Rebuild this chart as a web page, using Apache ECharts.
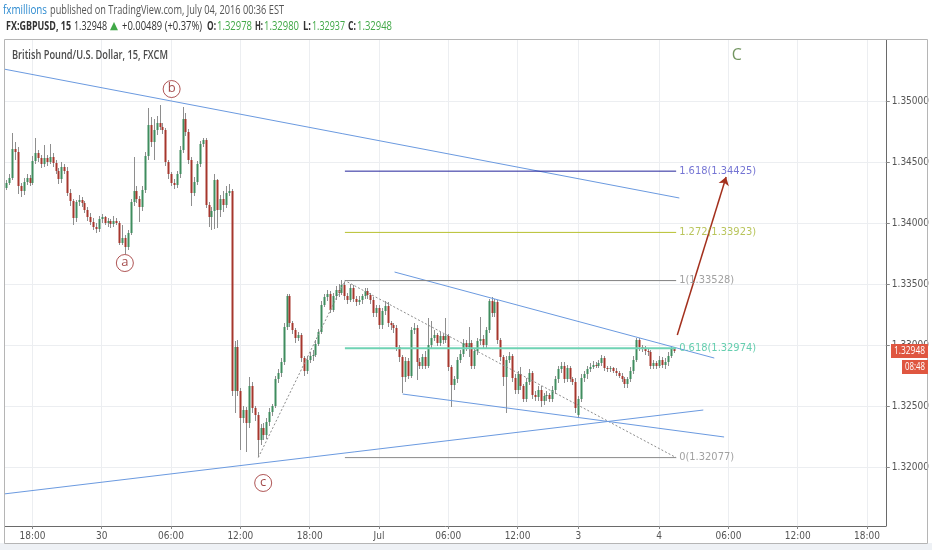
<!DOCTYPE html>
<html><head><meta charset="utf-8">
<script src="https://cdn.jsdelivr.net/npm/echarts@6/dist/echarts.min.js"></script>
<style>html,body{margin:0;padding:0;background:#fff}#c{width:932px;height:550px}</style>
</head><body><div id="c"></div>
<script>
// ---- data (15-minute GBPUSD bars) ----
const opens = [
1.3429,1.3433,1.3437,1.3461,1.3458,1.3430,1.3426,1.3434,1.3437,1.3433,
1.3451,1.3457,1.3453,1.3448,1.3453,1.3450,1.3454,1.3449,1.3443,1.3436,
1.3446,1.3443,1.3425,1.3418,1.3404,1.3417,1.3419,1.3416,1.3411,1.3405,
1.3401,1.3397,1.3395,1.3403,1.3405,1.3400,1.3402,1.3399,1.3402,1.3400,
1.3384,1.3388,1.3380,1.3392,1.3417,1.3426,1.3420,1.3413,1.3427,1.3455,
1.3480,1.3466,1.3476,1.3482,1.3479,1.3476,1.3450,1.3440,1.3433,1.3431,
1.3440,1.3460,1.3485,1.3475,1.3452,1.3425,1.3434,1.3448,1.3465,1.3468,
1.3415,1.3405,1.3410,1.3435,1.3411,1.3420,1.3415,1.3425,1.3426,1.3262,
1.3298,1.3262,1.3240,1.3247,1.3236,1.3266,1.3248,1.3243,1.3222,1.3232,
1.3226,1.3237,1.3245,1.3250,1.3272,1.3277,1.3286,1.3315,1.3340,1.3318,
1.3312,1.3306,1.3308,1.3289,1.3279,1.3288,1.3291,1.3292,1.3301,1.3311,
1.3333,1.3339,1.3342,1.3329,1.3340,1.3345,1.3343,1.3349,1.3340,1.3337,
1.3347,1.3338,1.3335,1.3337,1.3340,1.3344,1.3341,1.3337,1.3326,1.3330,
1.3316,1.3328,1.3332,1.3318,1.3316,1.3314,1.3298,1.3290,1.3274,1.3287,
1.3275,1.3312,1.3314,1.3286,1.3283,1.3290,1.3283,1.3300,1.3306,1.3308,
1.3302,1.3307,1.3304,1.3307,1.3282,1.3267,1.3272,1.3288,1.3293,1.3302,
1.3298,1.3302,1.3283,1.3295,1.3303,1.3305,1.3300,1.3312,1.3336,1.3326,
1.3335,1.3304,1.3290,1.3274,1.3288,1.3291,1.3273,1.3263,1.3276,1.3266,
1.3256,1.3270,1.3277,1.3259,1.3257,1.3263,1.3254,1.3258,1.3259,1.3256,
1.3263,1.3272,1.3280,1.3283,1.3272,1.3281,1.3272,1.3270,1.3243,1.3256,
1.3273,1.3276,1.3280,1.3282,1.3284,1.3283,1.3285,1.3289,1.3281,1.3280,
1.3281,1.3279,1.3277,1.3275,1.3272,1.3268,1.3272,1.3279,1.3288,1.3304,
1.3298,1.3297,1.3295,1.3294,1.3283,1.3285,1.3283,1.3288,1.3284,1.3286,
1.3291,1.32978];
const highs = [
1.3435,1.3440,1.3474,1.3466,1.3462,1.3433,1.3437,1.3440,1.3439,1.3455,
1.3470,1.3460,1.3456,1.3464,1.3456,1.3465,1.3457,1.3452,1.3445,1.3450,
1.3448,1.3446,1.3428,1.3420,1.3419,1.3423,1.3421,1.3418,1.3413,1.3408,
1.3404,1.3400,1.3406,1.3407,1.3406,1.3404,1.3403,1.3406,1.3404,1.3402,
1.3398,1.3390,1.3394,1.3420,1.3454,1.3430,1.3422,1.3430,1.3458,1.3494,
1.3487,1.3485,1.3488,1.3497,1.3482,1.3478,1.3452,1.3442,1.3436,1.3443,
1.3463,1.3495,1.3490,1.3477,1.3454,1.3438,1.3451,1.3467,1.3470,1.3470,
1.3417,1.3413,1.3440,1.3436,1.3423,1.3426,1.3430,1.3432,1.3428,1.3303,
1.3304,1.3265,1.3250,1.3249,1.3274,1.3270,1.3250,1.3245,1.3235,1.3236,
1.3240,1.3248,1.3252,1.3275,1.3280,1.3289,1.3318,1.3342,1.3342,1.3320,
1.3314,1.3311,1.3310,1.3291,1.3291,1.3294,1.3296,1.3304,1.3313,1.3336,
1.3342,1.3345,1.3344,1.3343,1.3348,1.3350,1.3353,1.3352,1.3343,1.3350,
1.3349,1.3340,1.3340,1.3342,1.3347,1.3347,1.3343,1.3339,1.3333,1.3333,
1.3330,1.3336,1.3335,1.3320,1.3318,1.3316,1.3300,1.3292,1.3290,1.3289,
1.3315,1.3318,1.3316,1.3289,1.3293,1.3295,1.3322,1.3320,1.3312,1.3310,
1.3311,1.3309,1.3322,1.3309,1.3284,1.3275,1.3290,1.3296,1.3305,1.3304,
1.3315,1.3304,1.3297,1.3306,1.3323,1.3308,1.3315,1.3338,1.3339,1.3338,
1.3337,1.3306,1.3292,1.3291,1.3294,1.3293,1.3276,1.3279,1.3282,1.3268,
1.3273,1.3280,1.3279,1.3262,1.3266,1.3266,1.3261,1.3262,1.3261,1.3266,
1.3275,1.3283,1.3286,1.3286,1.3284,1.3283,1.3274,1.3273,1.3258,1.3276,
1.3279,1.3283,1.3285,1.3287,1.3286,1.3288,1.3292,1.3291,1.3283,1.3283,
1.3282,1.3281,1.3279,1.3277,1.3274,1.3274,1.3282,1.3291,1.3306,1.3306,
1.3300,1.3299,1.3297,1.3296,1.3288,1.3287,1.3291,1.3290,1.3289,1.3294,
1.3299,1.32980];
const lows = [
1.3427,1.3431,1.3435,1.3452,1.3424,1.3421,1.3423,1.3431,1.3430,1.3431,
1.3448,1.3450,1.3445,1.3446,1.3447,1.3448,1.3446,1.3440,1.3432,1.3433,
1.3440,1.3422,1.3414,1.3398,1.3401,1.3414,1.3413,1.3408,1.3402,1.3398,
1.3394,1.3392,1.3393,1.3400,1.3398,1.3397,1.3396,1.3397,1.3398,1.3382,
1.3382,1.3375,1.3378,1.3390,1.3414,1.3416,1.3401,1.3410,1.3425,1.3452,
1.3462,1.3452,1.3472,1.3476,1.3473,1.3447,1.3436,1.3430,1.3428,1.3429,
1.3437,1.3457,1.3471,1.3448,1.3414,1.3422,1.3431,1.3446,1.3462,1.3412,
1.3397,1.3394,1.3395,1.3396,1.3405,1.3409,1.3412,1.3422,1.3258,1.3244,
1.3258,1.3214,1.3236,1.3212,1.3232,1.3244,1.3238,1.3208,1.3218,1.3222,
1.3223,1.3234,1.3242,1.3248,1.3269,1.3274,1.3284,1.3312,1.3315,1.3309,
1.3302,1.3303,1.3286,1.3275,1.3276,1.3285,1.3287,1.3290,1.3299,1.3309,
1.3331,1.3336,1.3326,1.3327,1.3337,1.3339,1.3341,1.3337,1.3334,1.3335,
1.3335,1.3332,1.3333,1.3334,1.3338,1.3338,1.3334,1.3323,1.3323,1.3313,
1.3313,1.3325,1.3315,1.3312,1.3310,1.3295,1.3286,1.3261,1.3270,1.3272,
1.3273,1.3309,1.3271,1.3280,1.3280,1.3280,1.3281,1.3297,1.3303,1.3299,
1.3299,1.3301,1.3302,1.3279,1.3249,1.3263,1.3269,1.3285,1.3290,1.3295,
1.3290,1.3280,1.3280,1.3292,1.3300,1.3297,1.3297,1.3310,1.3323,1.3323,
1.3301,1.3287,1.3266,1.3244,1.3285,1.3270,1.3260,1.3260,1.3263,1.3253,
1.3253,1.3267,1.3256,1.3254,1.3254,1.3249,1.3251,1.3254,1.3253,1.3253,
1.3260,1.3269,1.3277,1.3269,1.3270,1.3270,1.3267,1.3244,1.3240,1.3253,
1.3270,1.3272,1.3278,1.3280,1.3281,1.3281,1.3283,1.3279,1.3278,1.3278,
1.3277,1.3275,1.3273,1.3270,1.3265,1.3265,1.3270,1.3276,1.3286,1.3295,
1.3294,1.3292,1.3291,1.3280,1.3280,1.3280,1.3281,1.3281,1.3280,1.3283,
1.3289,1.32937];
const closes = [
1.3433,1.3437,1.3461,1.3458,1.3430,1.3426,1.3434,1.3437,1.3433,1.3451,
1.3457,1.3453,1.3448,1.3453,1.3450,1.3454,1.3449,1.3443,1.3436,1.3446,
1.3443,1.3425,1.3418,1.3404,1.3417,1.3419,1.3416,1.3411,1.3405,1.3401,
1.3397,1.3395,1.3403,1.3405,1.3400,1.3402,1.3399,1.3402,1.3400,1.3384,
1.3388,1.3380,1.3392,1.3417,1.3426,1.3420,1.3413,1.3427,1.3455,1.3480,
1.3466,1.3476,1.3482,1.3479,1.3476,1.3450,1.3440,1.3433,1.3431,1.3440,
1.3460,1.3485,1.3475,1.3452,1.3425,1.3434,1.3448,1.3465,1.3468,1.3415,
1.3405,1.3410,1.3435,1.3411,1.3420,1.3415,1.3425,1.3426,1.3262,1.3298,
1.3262,1.3240,1.3247,1.3236,1.3266,1.3248,1.3243,1.3222,1.3232,1.3226,
1.3237,1.3245,1.3250,1.3272,1.3277,1.3286,1.3315,1.3340,1.3318,1.3312,
1.3306,1.3308,1.3289,1.3279,1.3288,1.3291,1.3292,1.3301,1.3311,1.3333,
1.3339,1.3342,1.3329,1.3340,1.3345,1.3343,1.3349,1.3340,1.3337,1.3347,
1.3338,1.3335,1.3337,1.3340,1.3344,1.3341,1.3337,1.3326,1.3330,1.3316,
1.3328,1.3332,1.3318,1.3316,1.3314,1.3298,1.3290,1.3274,1.3287,1.3275,
1.3312,1.3314,1.3286,1.3283,1.3290,1.3283,1.3300,1.3306,1.3308,1.3302,
1.3307,1.3304,1.3307,1.3282,1.3267,1.3272,1.3288,1.3293,1.3302,1.3298,
1.3302,1.3283,1.3295,1.3303,1.3305,1.3300,1.3312,1.3336,1.3326,1.3335,
1.3304,1.3290,1.3274,1.3288,1.3291,1.3273,1.3263,1.3276,1.3266,1.3256,
1.3270,1.3277,1.3259,1.3257,1.3263,1.3254,1.3258,1.3259,1.3256,1.3263,
1.3272,1.3280,1.3283,1.3272,1.3281,1.3272,1.3270,1.3248,1.3256,1.3273,
1.3276,1.3280,1.3282,1.3284,1.3283,1.3285,1.3289,1.3281,1.3280,1.3281,
1.3279,1.3277,1.3275,1.3272,1.3268,1.3272,1.3279,1.3288,1.3304,1.3298,
1.3297,1.3295,1.3294,1.3283,1.3285,1.3283,1.3288,1.3284,1.3286,1.3291,
1.32978,1.32948];

const timeTickIndex = [9,33,57,81,105,129,153,177,198,226,250,274,298];
const timeTickLabel = ['18:00','30','06:00','12:00','18:00','Jul','06:00','12:00','3','4','06:00','12:00','18:00'];
const priceTicks = [1.32,1.325,1.33,1.335,1.34,1.345,1.35];

const fibLevels = [1.34425,1.33923,1.33528,1.32974,1.32077];
const fibNames = ['1.618','1.272','1','0.618','0'];
const fibFrom = 117.2, fibTo = 231.9;
const fibPath = [[87.2,1.32077],[117.2,1.33528],[231.9,1.32077]];

const trendUpper = [[-0.5,1.3526],[233.0,1.34205]];
const trendLower = [[-0.5,1.3178],[241.3,1.32467]];
const channelTop = [[134.4,1.33598],[245.1,1.32893]];
const channelBottom = [[137.2,1.32598],[248.5,1.32246]];
const targetArrow = [[232.3,1.33082],[249.2,1.34377]];

const waveNames = ['a','b','c'];
const waveX = [41.0,57.2,88.9];
const waveY = [1.33672,1.35098,1.31869];
const waveDegreeLabel = ['C', 252.9, 1.35377];

const lastPrice = 1.32948;
const countdown = '08:48';

// ---- styles ----
const UP = '#3f8d5e', DOWN = '#a6362d', WICK = '#8e8e8e';
const NARROW = "'Liberation Sans Narrow','DejaVu Sans Condensed','Arial Narrow','Liberation Sans',sans-serif";
const fibLineColors = ['#23239a','#b7c02e','#808080','#6fd3b4','#8a8a8a'];
const fibTextColors = ['#5252c9','#a8b733','#8a8a8a','#3fc29b','#8a8a8a'];
const TREND = '#6b9ae0';

const chart = echarts.init(document.getElementById('c'), null, {renderer:'canvas'});

const candleData = opens.map((o,i)=>[i,o,closes[i],lows[i],highs[i]]);

function renderCandle(params, api){
  const i = api.value(0), o = api.value(1), c = api.value(2), l = api.value(3), h = api.value(4);
  const po = api.coord([i,o]), pc = api.coord([i,c]), pl = api.coord([i,l]), ph = api.coord([i,h]);
  const xc = Math.round(po[0]);
  const top = Math.round(Math.min(po[1],pc[1])), bot = Math.round(Math.max(po[1],pc[1]));
  return {type:'group', children:[
    {type:'line', shape:{x1:xc+0.5,y1:Math.round(ph[1]),x2:xc+0.5,y2:Math.round(pl[1])}, style:{stroke:WICK,lineWidth:1}},
    {type:'rect', shape:{x:xc-0.5,y:top,width:2,height:Math.max(1,bot-top)}, style:{fill:(c>=o)?UP:DOWN}}
  ]};
}

function lineSeries(data, color, width, type, z){
  return {type:'line', data:data, symbol:'none', silent:true, animation:false, z:z||4,
    color:color, lineStyle:{color:color,width:width,type:type||'solid'}};
}

const series = [
  {type:'custom', name:'GBPUSD', renderItem:renderCandle, data:candleData, encode:{x:0,y:[1,2,3,4]}, z:2, silent:true},
  lineSeries(trendUpper, TREND, 1),
  lineSeries(trendLower, TREND, 1),
  lineSeries(channelTop, TREND, 1),
  lineSeries(channelBottom, TREND, 1),
  lineSeries(fibPath, '#8c8c8c', 1, [2,2], 3)
];
fibLevels.forEach((lv,k)=>{
  series.push(lineSeries([[fibFrom,lv],[fibTo,lv]], fibLineColors[k], k===3?2:1, 'solid', 5));
});
series.push({type:'scatter', silent:true, symbolSize:0, z:6,
  data: fibLevels.map((lv,k)=>({value:[fibTo, lv], name: fibNames[k]+'('+lv.toFixed(5)+')',
    label:{color: fibTextColors[k]}})),
  label:{show:true, position:'right', distance:3, fontFamily:NARROW, fontSize:11,
    formatter:p=>p.name}
});
series.push({type:'lines', coordinateSystem:'cartesian2d', silent:true, z:6,
  symbol:['none','arrow'], symbolSize:8,
  lineStyle:{color:'#a3301d', width:1.5, opacity:1},
  data:[{coords: targetArrow}]});
series.push({type:'scatter', silent:true, symbol:'circle', symbolSize:17, z:7,
  itemStyle:{color:'#ffffff', borderColor:'#9b2b2b', borderWidth:1},
  data: waveNames.map((n,k)=>({value:[waveX[k], waveY[k]], name:n})),
  label:{show:true, position:'inside', formatter:p=>p.name, color:'#8b1c1c', fontSize:13, fontFamily:"'Open Sans',sans-serif", offset:[0,-1]}});
series.push({type:'scatter', silent:true, symbolSize:0, z:7,
  data:[{value:[waveDegreeLabel[1], waveDegreeLabel[2]], name:waveDegreeLabel[0]}],
  label:{show:true, position:'inside', formatter:p=>p.name, color:'#4f7a38', fontSize:16, fontFamily:"'Open Sans',sans-serif"}});

const option = {
  animation:false,
  backgroundColor:'#ffffff',
  grid:{left:5, top:40, width:885, height:486, show:false},
  xAxis:{type:'value', min:-0.5, max:304.5,
    axisLine:{show:true, onZero:false, lineStyle:{color:'#6a6a6a',width:1}},
    axisTick:{show:true, customValues:timeTickIndex, length:3, lineStyle:{color:'#888'}},
    axisLabel:{customValues:timeTickIndex, color:'#555', fontSize:10, fontFamily:NARROW, margin:5,
      formatter:(v)=>{const k=timeTickIndex.indexOf(Math.round(v)); return k>=0?timeTickLabel[k]:'';}},
    splitLine:{show:true, lineStyle:{color:'#eceef1',width:1}}
  },
  yAxis:{type:'value', position:'right', min:1.315164, max:1.355, scale:true,
    axisLine:{show:true, onZero:false, lineStyle:{color:'#6a6a6a',width:1}},
    axisTick:{show:true, customValues:priceTicks, length:4, lineStyle:{color:'#888'}},
    axisLabel:{customValues:priceTicks, color:'#555', fontSize:10, fontFamily:NARROW, margin:6,
      formatter:(v)=>Number(v).toFixed(5)},
    splitLine:{show:true, lineStyle:{color:'#eceef1',width:1}}
  },
  series:series
};
chart.setOption(option);

// ---- header and overlay texts ----
const mctx = document.createElement('canvas').getContext('2d');
function fitText(x0, x1, yc, text, font, fill, z){
  mctx.font = font;
  const w = mctx.measureText(text).width || 1;
  return {type:'text', x:x0, y:yc, scaleX:(x1-x0)/w, z:z||20,
    style:{text:text, font:font, fill:fill, textVerticalAlign:'middle', verticalAlign:'middle', textAlign:'left', align:'left'}};
}
const F = "'Open Sans',sans-serif";
const GREEN = '#41a847', DARK = '#333333';
const graphics = [
  {type:'rect', shape:{x:0,y:543,width:932,height:7}, style:{fill:'#eef1f5'}, z:1},
  {type:'rect', shape:{x:4.5,y:39.5,width:923,height:504}, style:{fill:'none',stroke:'#b5b5b5',lineWidth:1}, z:1},
  fitText(3,47,11,'fxmillions','12px '+F,'#2d8bd0'),
  fitText(50,284,11,'published on TradingView.com, July 04, 2016 00:36 EST','12px '+F,'#555555'),
  fitText(6,71,26.5,'FX:GBPUSD, 15','bold 12px '+F,DARK),
  fitText(74,107,26.5,'1.32948','12px '+F,DARK),
  fitText(110,118,26.5,'▲',"11px 'DejaVu Sans',sans-serif",GREEN),
  fitText(122,202,26.5,'+0.00489 (+0.37%)','12px '+F,DARK),
  fitText(207,216,26.5,'O:','bold 12px '+F,DARK),
  fitText(217,252,26.5,'1.32978','12px '+F,GREEN),
  fitText(255,263,26.5,'H:','bold 12px '+F,DARK),
  fitText(264,299,26.5,'1.32980','12px '+F,GREEN),
  fitText(303,311,26.5,'L:','bold 12px '+F,DARK),
  fitText(312,345,26.5,'1.32937','12px '+F,GREEN),
  fitText(348,356,26.5,'C:','bold 12px '+F,DARK),
  fitText(357,392,26.5,'1.32948','12px '+F,GREEN),
  fitText(12,168,56,'British Pound/U.S. Dollar, 15, FXCM','600 12px '+F,'#4a4a4a')
];
const py = chart.convertToPixel({gridIndex:0},[0,lastPrice])[1];
graphics.push({type:'rect', shape:{x:891,y:Math.round(py)-7,width:37,height:14}, style:{fill:'#df5640'}, z:20});
graphics.push(fitText(894,925,Math.round(py),lastPrice.toFixed(5),'11px '+F,'#ffffff',21));
graphics.push({type:'rect', shape:{x:902,y:Math.round(py)+9,width:26,height:14}, style:{fill:'#df5640'}, z:20});
graphics.push(fitText(905,925,Math.round(py)+16,countdown,'11px '+F,'#ffffff',21));
chart.setOption({graphic:graphics});
</script></body></html>
